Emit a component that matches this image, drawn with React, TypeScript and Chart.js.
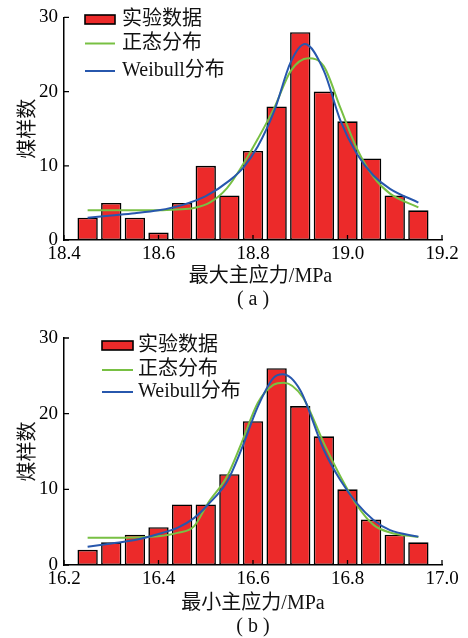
import React, { useEffect, useRef } from "react";
import { Chart, registerables } from "chart.js";

Chart.register(...registerables);

// ---------- data: panel (a) ----------
const binCentersA = [18.45, 18.5, 18.55, 18.6, 18.65, 18.7, 18.75, 18.8, 18.85, 18.9, 18.95, 19.0, 19.05, 19.1, 19.15];
const countsA = [3, 5, 3, 1, 5, 10, 6, 12, 18, 28, 20, 16, 11, 6, 4];
const normalXA = [18.45, 18.5, 18.55, 18.6, 18.64, 18.675, 18.71, 18.745, 18.78, 18.81, 18.845, 18.88, 18.917, 18.95, 18.985, 19.02, 19.055, 19.09, 19.15];
const normalYA = [4.0, 4.0, 4.0, 4.0, 4.1, 4.3, 5.1, 7.0, 10.3, 13.6, 17.8, 22.8, 24.5, 23.4, 17.8, 12.3, 8.5, 6.25, 4.4];
const weibullXA = [18.45, 18.5, 18.55, 18.6, 18.65, 18.7, 18.75, 18.78, 18.81, 18.845, 18.88, 18.91, 18.95, 18.985, 19.02, 19.055, 19.09, 19.15];
const weibullYA = [3.0, 3.3, 3.6, 4.0, 4.7, 5.9, 8.0, 9.8, 12.6, 17.4, 24.0, 26.4, 22.8, 16.1, 11.6, 8.7, 6.9, 5.05];
const xRangeA = [18.4, 19.2];
const xTitleA = "   最大主应力/MPa";
const captionA = "( a )";

// ---------- data: panel (b) ----------
const binCentersB = [16.25, 16.3, 16.35, 16.4, 16.45, 16.5, 16.55, 16.6, 16.65, 16.7, 16.75, 16.8, 16.85, 16.9, 16.95];
const countsB = [2, 3, 4, 5, 8, 8, 12, 19, 26, 21, 17, 10, 6, 4, 3];
const normalXB = [16.25, 16.3, 16.35, 16.4, 16.44, 16.475, 16.505, 16.545, 16.575, 16.61, 16.643, 16.665, 16.705, 16.75, 16.785, 16.82, 16.855, 16.89, 16.95];
const normalYB = [3.6, 3.6, 3.65, 3.8, 4.25, 5.1, 8.2, 11.7, 16.0, 21.4, 23.8, 24.1, 22.2, 16.1, 11.7, 7.9, 5.3, 4.3, 3.7];
const weibullXB = [16.25, 16.3, 16.35, 16.4, 16.44, 16.475, 16.505, 16.545, 16.575, 16.61, 16.643, 16.663, 16.7, 16.75, 16.785, 16.82, 16.855, 16.89, 16.95];
const weibullYB = [2.4, 2.85, 3.3, 4.1, 4.9, 6.2, 8.0, 11.0, 15.2, 20.9, 24.7, 25.2, 23.1, 15.2, 11.2, 8.15, 5.95, 4.6, 3.75];
const xRangeB = [16.2, 17.0];
const xTitleB = "最小主应力/MPa";
const captionB = "( b )";

// ---------- shared ----------
const yRange = [0, 30];
const yStep = 10;
const xStep = 0.2;
const yTitle = "煤样数";
const legendLabels = ["实验数据", "正态分布", "Weibull分布"];

const FONT = '"Liberation Serif", "Times New Roman", "Noto Sans CJK SC", serif';
const RED = "#ec2a2a";
const GREEN = "#78c043";
const BLUE = "#2757ad";

const inwardTicks = {
  id: "inwardTicks",
  afterDatasetsDraw(chart: any, _args: any, opts: any) {
    const { ctx, chartArea } = chart;
    const xs = chart.scales.x;
    const ys = chart.scales.y;
    const len = opts.length ?? 5;
    ctx.save();
    ctx.strokeStyle = "#000";
    ctx.lineWidth = opts.width ?? 1.3;
    ctx.beginPath();
    xs.ticks.forEach((t: any) => {
      const px = xs.getPixelForValue(t.value);
      ctx.moveTo(px, chartArea.bottom);
      ctx.lineTo(px, chartArea.bottom - len);
    });
    ys.ticks.forEach((t: any) => {
      const py = ys.getPixelForValue(t.value);
      ctx.moveTo(chartArea.left, py);
      ctx.lineTo(chartArea.left + len, py);
    });
    ctx.stroke();
    ctx.restore();
  },
};

const panelLegend = {
  id: "panelLegend",
  afterDraw(chart: any, _args: any, opts: any) {
    const { ctx } = chart;
    const ds = chart.data.datasets;
    ctx.save();
    ctx.font = `${opts.fontSize}px ${FONT}`;
    ctx.textBaseline = "middle";
    ctx.textAlign = "left";
    ds.forEach((d: any, i: number) => {
      const cy = opts.rows[i];
      const x0 = opts.x;
      const w = opts.sampleWidth;
      if (d.type === "line") {
        ctx.strokeStyle = d.borderColor;
        ctx.lineWidth = d.borderWidth;
        ctx.beginPath();
        ctx.moveTo(x0, cy);
        ctx.lineTo(x0 + w, cy);
        ctx.stroke();
      } else {
        const h = opts.boxHeight;
        ctx.fillStyle = d.backgroundColor;
        ctx.fillRect(x0, cy - h / 2, w, h);
        ctx.strokeStyle = d.borderColor;
        ctx.lineWidth = d.borderWidth;
        ctx.strokeRect(x0, cy - h / 2, w, h);
      }
      ctx.fillStyle = "#111";
      ctx.fillText(d.label, opts.textX, cy);
    });
    ctx.restore();
  },
};

type PanelProps = {
  width: number;
  height: number;
  bins: number[];
  counts: number[];
  nx: number[];
  ny: number[];
  wx: number[];
  wy: number[];
  xRange: number[];
  xTitle: string;
  caption: string;
  padTop: number;
  xAxisHeight: number;
  titlePadBottom: number;
  legend: any;
};

function Panel(p: PanelProps) {
  const ref = useRef<HTMLCanvasElement | null>(null);
  useEffect(() => {
    if (!ref.current) return;
    const chart = new Chart(ref.current, {
      type: "bar",
      data: {
        datasets: [
          {
            type: "bar",
            label: legendLabels[0],
            data: p.bins.map((x, i) => ({ x, y: p.counts[i] })),
            backgroundColor: RED,
            borderColor: "#000",
            borderWidth: 1.6,
            borderSkipped: false,
            categoryPercentage: 1,
            barPercentage: 0.86,
            order: 3,
          } as any,
          {
            type: "line",
            label: legendLabels[1],
            data: p.nx.map((x, i) => ({ x, y: p.ny[i] })),
            borderColor: GREEN,
            borderWidth: 2,
            pointRadius: 0,
            cubicInterpolationMode: "monotone",
            fill: false,
            order: 2,
          } as any,
          {
            type: "line",
            label: legendLabels[2],
            data: p.wx.map((x, i) => ({ x, y: p.wy[i] })),
            borderColor: BLUE,
            borderWidth: 2,
            pointRadius: 0,
            cubicInterpolationMode: "monotone",
            fill: false,
            order: 1,
          } as any,
        ],
      },
      options: {
        responsive: false,
        animation: false,
        layout: { padding: { top: p.padTop, right: 26, left: 0, bottom: 0 } },
        plugins: {
          legend: { display: false },
          tooltip: { enabled: false },
          inwardTicks: { length: 5, width: 1.3 },
          panelLegend: p.legend,
        } as any,
        scales: {
          x: {
            type: "linear",
            min: p.xRange[0],
            max: p.xRange[1],
            offset: false,
            grid: { display: false, drawTicks: false, offset: false },
            border: { display: true, color: "#000", width: 1.5, z: 1 },
            ticks: {
              stepSize: xStep,
              autoSkip: false,
              maxRotation: 0,
              padding: 3,
              color: "#000",
              font: { family: FONT, size: 19 },
              callback: (v: any) => Number(v).toFixed(1),
            },
            title: {
              display: true,
              text: [p.xTitle, p.caption],
              color: "#111",
              font: { family: FONT, size: 20, lineHeight: 1.15 },
              padding: { top: 0, bottom: p.titlePadBottom },
            },
            afterFit: (s: any) => {
              s.height = p.xAxisHeight;
            },
          },
          y: {
            type: "linear",
            min: yRange[0],
            max: yRange[1],
            grid: { display: false, drawTicks: false },
            border: { display: true, color: "#000", width: 1.5, z: 1 },
            ticks: {
              stepSize: yStep,
              padding: 6,
              color: "#000",
              font: { family: FONT, size: 19 },
            },
            title: {
              display: true,
              text: yTitle,
              color: "#111",
              font: { family: FONT, size: 20, lineHeight: 1.2 },
              padding: { top: 17, bottom: 0 },
            },
            afterFit: (s: any) => {
              s.width = 64;
            },
          },
        },
      } as any,
      plugins: [inwardTicks, panelLegend],
    });
    return () => chart.destroy();
  }, []);
  return (
    <canvas
      ref={ref}
      width={p.width}
      height={p.height}
      style={{ display: "block", width: p.width, height: p.height }}
    />
  );
}

export default function App() {
  return (
    <div style={{ position: "absolute", left: 0, top: 0, width: 468, height: 638, background: "#fff" }}>
      <Panel
        width={468}
        height={320}
        bins={binCentersA}
        counts={countsA}
        nx={normalXA}
        ny={normalYA}
        wx={weibullXA}
        wy={weibullYA}
        xRange={xRangeA}
        xTitle={xTitleA}
        caption={captionA}
        padTop={16}
        xAxisHeight={80}
        titlePadBottom={9}
        legend={{ x: 85, rows: [19.5, 43.5, 71], sampleWidth: 30, boxHeight: 9, textX: 122, fontSize: 20 }}
      />
      <Panel
        width={468}
        height={318}
        bins={binCentersB}
        counts={countsB}
        nx={normalXB}
        ny={normalYB}
        wx={weibullXB}
        wy={weibullYB}
        xRange={xRangeB}
        xTitle={xTitleB}
        caption={captionB}
        padTop={18}
        xAxisHeight={73}
        titlePadBottom={0}
        legend={{ x: 102, rows: [25.5, 50, 72], sampleWidth: 31, boxHeight: 9, textX: 138, fontSize: 20 }}
      />
    </div>
  );
}
